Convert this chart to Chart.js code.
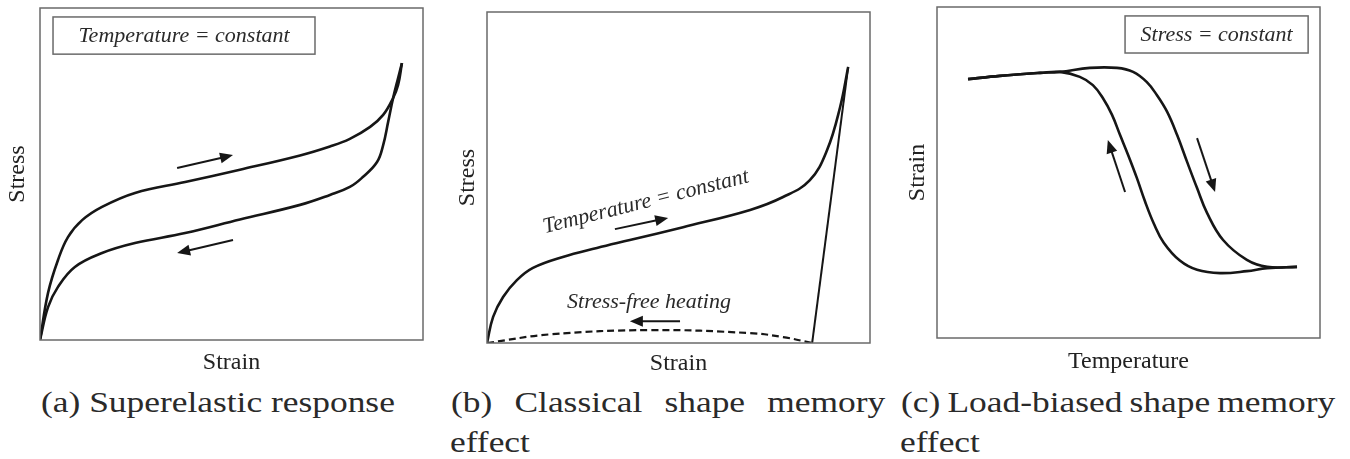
<!DOCTYPE html>
<html>
<head>
<meta charset="utf-8">
<script src="https://cdn.jsdelivr.net/npm/chart.js@4/dist/chart.umd.min.js"></script>
<style>
  body { margin: 0; background: #fff; width: 1350px; height: 459px; position: relative; overflow: hidden; }
  canvas { position: absolute; top: 0; }
  .cap { position: absolute; font-family: 'Liberation Serif', serif; font-size: 30px; line-height: 42px; color: #2a2a2a;
         white-space: nowrap; transform: scaleX(1.18); transform-origin: 0 0; }
  .spread { display: flex; justify-content: space-between; width: 368px; }
</style>
</head>
<body>
<canvas id="chart-a" width="450" height="380" style="left:0px"></canvas>
<canvas id="chart-b" width="450" height="380" style="left:450px"></canvas>
<canvas id="chart-c" width="450" height="380" style="left:900px"></canvas>

<div class="cap" style="left:41px; top:381px;">(a) Superelastic response</div>
<div class="cap spread" style="left:451px; top:381px;"><span>(b)</span><span>Classical</span><span>shape</span><span>memory</span></div>
<div class="cap" style="left:450px; top:421px;">effect</div>
<div class="cap spread" style="left:901px; top:381px;"><span>(c)</span><span>Load-biased</span><span>shape</span><span>memory</span></div>
<div class="cap" style="left:900px; top:421px;">effect</div>

<script>
// (a) superelastic: loading / unloading (strain, stress in % of axis)
const aLoadStrain   = [0, 2.1, 4.7, 7.3, 11, 16.2, 24.8, 37.9, 52.2, 67.9, 75.7, 80.9, 86.2, 89.6, 92.2, 93.5, 94.5];
const aLoadStress   = [0, 14.2, 24.1, 31, 36.1, 40.1, 44.3, 47.6, 51.3, 55.6, 58.3, 60.6, 64.2, 67.8, 72.9, 76.8, 83.4];
const aUnloadStrain = [0, 2.1, 4.7, 9.1, 16.2, 24.8, 37.9, 52.2, 67.9, 75.7, 80.9, 84.3, 88, 89.6, 90.9, 92.2, 93.5, 94.5];
const aUnloadStress = [0, 9.9, 16, 22, 26.2, 29.2, 32.2, 36.3, 40.7, 43.7, 46.1, 49.1, 53.6, 58.7, 65.7, 72.9, 78.9, 83.4];
const aArrows = [[35.8, 51.8, 50.4, 55.7], [50.4, 30.1, 35.8, 26.2]];

// (b) classical shape memory effect
const bLoadStrain   = [0, 1.6, 4.2, 7.8, 12, 19.8, 28.7, 37.3, 51.2, 68.7, 77.3, 84.3, 88.8, 92.2, 94.3];
const bLoadStress   = [0, 7.9, 13.9, 19, 22.7, 26, 28.7, 31.1, 35, 40.2, 44.1, 49.2, 58.3, 71.3, 83.4];
const bUnloadStrain = [84.9, 94.3];
const bUnloadStress = [0, 83.4];
const bHeatStrain   = [0, 16.4, 42.6, 68.7, 77.3, 84.9];
const bHeatStress   = [0, 2.6, 3.9, 3, 1.8, 0];
const bArrows = [[33.4, 34.4, 47.3, 37.8], [50.4, 6.6, 37.3, 6.6]];

// (c) load-biased: cooling / heating (temperature, strain)
const cCoolTemp   = [8.1, 16.4, 26.9, 32.1, 37.3, 40.7, 43.3, 45.7, 47.8, 49.9, 52.2, 54.3, 56.6, 59.2, 63.4, 67.9, 73.9, 80.9, 86.2, 94];
const cCoolStrain = [78.2, 79.2, 80.1, 80.4, 78.9, 76.4, 72.5, 67.4, 61.3, 55.3, 48.3, 41.3, 34.6, 28.8, 23.4, 20.6, 19.6, 20.2, 21.1, 21.5];
const cHeatTemp   = [8.1, 16.4, 26.9, 32.1, 39.9, 47, 51.2, 54.8, 57.4, 60.1, 62.7, 65.3, 67.9, 70.5, 74.7, 80.9, 86.2, 94];
const cHeatStrain = [78.2, 79.2, 80.1, 80.4, 81.6, 81.6, 80.4, 77.3, 73.4, 68.3, 61.3, 53.2, 45.3, 37.8, 29.6, 23.6, 21.5, 21.5];
const cArrows = [[49.1, 44.1, 44.6, 59.8], [67.9, 60.4, 72.6, 44.1]];

function pts(xs, ys) {
    return xs.map((x, i) => ({ x: x, y: ys[i] }));
}

const ink = '#161616';
const noteFont = 'italic 22px "Liberation Serif", serif';

// frame, arrows and boxed notes
const sketchPlugin = {
    id: 'sketch',
    afterDatasetsDraw(chart, args, opts) {
        const { ctx, chartArea: a, scales: { x, y } } = chart;
        ctx.save();
        ctx.strokeStyle = '#6a6a6a';
        ctx.lineWidth = 1.5;
        ctx.strokeRect(a.left, a.top, a.right - a.left, a.bottom - a.top);

        (opts.boxes || []).forEach(b => {
            const x0 = x.getPixelForValue(b[0]), y0 = y.getPixelForValue(b[1]);
            const x1 = x.getPixelForValue(b[2]), y1 = y.getPixelForValue(b[3]);
            ctx.strokeStyle = '#6a6a6a';
            ctx.lineWidth = 1.5;
            ctx.strokeRect(x0, y0, x1 - x0, y1 - y0);
        });

        ctx.fillStyle = ink;
        ctx.strokeStyle = ink;
        (opts.arrows || []).forEach(ar => {
            const x0 = x.getPixelForValue(ar[0]), y0 = y.getPixelForValue(ar[1]);
            const x1 = x.getPixelForValue(ar[2]), y1 = y.getPixelForValue(ar[3]);
            const ang = Math.atan2(y1 - y0, x1 - x0);
            const len = 13, half = 5.5;
            ctx.lineWidth = 2;
            ctx.beginPath();
            ctx.moveTo(x0, y0);
            ctx.lineTo(x1 - Math.cos(ang) * len * 0.8, y1 - Math.sin(ang) * len * 0.8);
            ctx.stroke();
            ctx.beginPath();
            ctx.moveTo(x1, y1);
            ctx.lineTo(x1 - Math.cos(ang) * len - Math.sin(ang) * half, y1 - Math.sin(ang) * len + Math.cos(ang) * half);
            ctx.lineTo(x1 - Math.cos(ang) * len + Math.sin(ang) * half, y1 - Math.sin(ang) * len - Math.cos(ang) * half);
            ctx.closePath();
            ctx.fill();
        });

        ctx.fillStyle = '#2a2a2a';
        ctx.font = noteFont;
        ctx.textAlign = 'center';
        ctx.textBaseline = 'middle';
        (opts.notes || []).forEach(n => {
            ctx.save();
            ctx.translate(x.getPixelForValue(n.x), y.getPixelForValue(n.y));
            ctx.rotate((n.rot || 0) * Math.PI / 180);
            ctx.fillText(n.text, 0, 0);
            ctx.restore();
        });
        ctx.restore();
    }
};

function curve(data, extra) {
    return Object.assign({
        data: data,
        showLine: true,
        borderColor: ink,
        borderWidth: 2.6,
        pointRadius: 0,
        tension: 0.4,
        fill: false
    }, extra || {});
}

function makeChart(id, datasets, xTitle, yTitle, pad, sketch) {
    new Chart(document.getElementById(id), {
        type: 'scatter',
        data: { datasets: datasets },
        options: {
            responsive: false,
            animation: false,
            events: [],
            layout: { autoPadding: false, padding: pad.layout },
            plugins: { legend: { display: false }, tooltip: { enabled: false }, sketch: sketch },
            scales: {
                x: {
                    min: 0, max: 100,
                    grid: { display: false, drawTicks: false },
                    border: { display: false },
                    ticks: { display: false },
                    title: { display: true, text: xTitle, color: '#222',
                             font: { family: "'Liberation Serif', serif", size: 24 },
                             padding: { top: pad.xTop, bottom: 0 } }
                },
                y: {
                    min: 0, max: 100,
                    grid: { display: false, drawTicks: false },
                    border: { display: false },
                    ticks: { display: false },
                    title: { display: true, text: yTitle, color: '#222',
                             font: { family: "'Liberation Serif', serif", size: 24 },
                             padding: { top: 0, bottom: pad.yBottom } }
                }
            }
        },
        plugins: [sketchPlugin]
    });
}

// (a)
makeChart('chart-a', [
    curve(pts(aLoadStrain, aLoadStress)),
    curve(pts(aUnloadStrain, aUnloadStress))
], 'Strain', 'Stress',
{ layout: { left: 3.6, top: 8, right: 27, bottom: 2.6 }, xTop: 8.6, yBottom: 7.6 },
{
    arrows: aArrows,
    boxes: [[3.4, 97.3, 71.8, 86.1]],
    notes: [{ text: 'Temperature = constant', x: 37.6, y: 91.4 }]
});

// (b)
makeChart('chart-b', [
    curve(pts(bLoadStrain, bLoadStress)),
    curve(pts(bUnloadStrain, bUnloadStress), { borderWidth: 2, tension: 0 }),
    curve(pts(bHeatStrain, bHeatStress), { borderWidth: 2.2, borderDash: [7, 4] })
], 'Strain', 'Stress',
{ layout: { left: 3.6, top: 12, right: 30, bottom: 1.6 }, xTop: 6.6, yBottom: 4.6 },
{
    arrows: bArrows,
    notes: [
        { text: 'Temperature = constant', x: 41.5, y: 42.6, rot: -14 },
        { text: 'Stress-free heating', x: 42.3, y: 12.3 }
    ]
});

// (c)
makeChart('chart-c', [
    curve(pts(cCoolTemp, cCoolStrain)),
    curve(pts(cHeatTemp, cHeatStrain))
], 'Temperature', 'Strain',
{ layout: { left: 3.6, top: 7, right: 30, bottom: 3.6 }, xTop: 9.6, yBottom: 4.6 },
{
    arrows: cArrows,
    boxes: [[49.1, 97.3, 96.9, 86.1]],
    notes: [{ text: 'Stress = constant', x: 73, y: 91.5 }]
});
</script>
</body>
</html>
